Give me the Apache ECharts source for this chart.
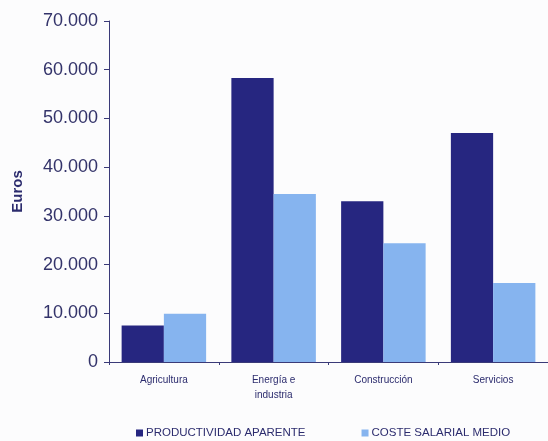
<!DOCTYPE html>
<html>
<head>
<meta charset="utf-8">
<script src="https://cdn.jsdelivr.net/npm/echarts@6/dist/echarts.min.js"></script>
<style>
html,body{margin:0;padding:0;background:#fcfcfd;}
#c{width:548px;height:441px;}
</style>
</head>
<body>
<div id="c"></div>
<script>
const categories = ['Agricultura', 'Energía e\nindustria', 'Construcción', 'Servicios'];
const productividad = [7500, 58300, 33000, 47000];
const coste = [9900, 34500, 24400, 16200];
const seriesNames = ['PRODUCTIVIDAD APARENTE', 'COSTE SALARIAL MEDIO'];
const yMax = 70000;
const yInterval = 10000;

const chart = echarts.init(document.getElementById('c'), null, {renderer: 'canvas'});
const navy = '#2c2c6e';
chart.setOption({
  backgroundColor: '#fcfcfd',
  animation: false,
  grid: {left: 109, right: -2, top: 21, bottom: 79, containLabel: false},
  legend: {
    data: seriesNames,
    bottom: -3,
    left: 131,
    itemWidth: 7,
    itemHeight: 7,
    itemGap: 56,
    icon: 'rect',
    textStyle: {color: navy, fontSize: 11.5, fontFamily: 'Liberation Sans, Arial, sans-serif', padding: [0, 0, 0, -2]}
  },
  xAxis: {
    type: 'category',
    data: categories,
    axisLine: {lineStyle: {color: '#3a3a78', width: 1}},
    axisTick: {show: true, length: 3, lineStyle: {color: '#3a3a78'}},
    axisLabel: {color: navy, fontSize: 10, fontFamily: 'Liberation Sans, Arial, sans-serif', margin: 11, lineHeight: 15}
  },
  yAxis: {
    type: 'value',
    min: 0,
    max: yMax,
    interval: yInterval,
    name: 'Euros',
    nameLocation: 'middle',
    nameGap: 84,
    nameRotate: 90,
    nameTextStyle: {color: navy, fontSize: 15, fontWeight: 'bold', fontFamily: 'Liberation Sans, Arial, sans-serif'},
    axisLine: {show: true, lineStyle: {color: '#3a3a78', width: 1}},
    axisTick: {show: true, length: 5, lineStyle: {color: '#3a3a78'}},
    splitLine: {show: false},
    axisLabel: {
      color: '#33336a',
      fontSize: 18,
      fontFamily: 'Liberation Sans, Arial, sans-serif',
      margin: 11,
      formatter: function (v) { return v === 0 ? '0' : v.toLocaleString('de-DE'); }
    }
  },
  series: [
    {name: seriesNames[0], type: 'bar', data: productividad, itemStyle: {color: '#262680'}, barGap: '0%', barCategoryGap: '23%'},
    {name: seriesNames[1], type: 'bar', data: coste, itemStyle: {color: '#86b4ef'}, barGap: '0%', barCategoryGap: '23%'}
  ]
});
</script>
</body>
</html>
